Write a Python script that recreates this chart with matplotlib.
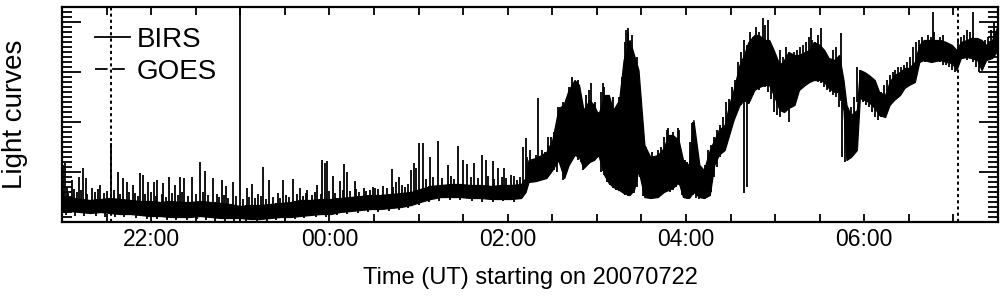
"""
BIRS light curve, 2007-07-22/23, redrawn with matplotlib.
Values are read off the published figure (arbitrary units).
"""
import matplotlib
matplotlib.use("Agg")
import matplotlib.pyplot as plt
from matplotlib.lines import Line2D
from matplotlib.ticker import FixedLocator, FuncFormatter, MultipleLocator
import numpy as np

plt.rcParams["font.family"] = ["Liberation Sans", "DejaVu Sans"]

# ---------------------------------------------------------------------------
# Data: time in minutes after 21:00 UT on 20070722, flux in arbitrary units
# ---------------------------------------------------------------------------
band_minutes = [
    0, 5, 12, 19, 26, 32, 39, 46, 53, 59, 66, 73, 80, 86, 93, 100, 107, 113,
    120, 127, 133, 140, 147, 154, 160, 167, 174, 181, 187, 194, 201, 208, 214,
    221, 228, 235, 241, 248, 255, 262, 268, 275, 282, 289, 295, 302, 309, 312,
    314, 319, 326, 330, 334, 338, 341, 345, 348, 351, 355, 358, 361, 365, 368,
    371, 375, 378, 382, 385, 388, 392, 396, 401, 405, 408, 411, 415, 418, 422,
    425, 429, 432, 436, 439, 442, 446, 449, 452, 456, 459, 462, 466, 469, 473,
    476, 479, 483, 486, 489, 493, 496, 500, 503, 506, 510, 513, 516, 520, 523,
    526, 528, 531, 535, 537, 540, 543, 547, 550, 554, 557, 560, 564, 567, 570,
    574, 577, 580, 585, 591, 595, 599, 602, 605, 609, 612, 616, 619, 622, 626,
    630,
]
band_high = [
    0.48, 0.50, 0.46, 0.44, 0.46, 0.48, 0.46, 0.44, 0.42, 0.42, 0.40, 0.42,
    0.40, 0.40, 0.42, 0.40, 0.38, 0.36, 0.32, 0.34, 0.34, 0.36, 0.38, 0.40,
    0.44, 0.44, 0.46, 0.46, 0.48, 0.50, 0.52, 0.54, 0.54, 0.56, 0.58, 0.60,
    0.66, 0.72, 0.74, 0.76, 0.76, 0.74, 0.74, 0.72, 0.74, 0.74, 0.76, 0.88,
    1.24, 1.28, 1.40, 1.64, 2.24, 2.38, 2.64, 2.84, 2.74, 2.24, 2.44, 2.34,
    2.14, 2.54, 2.54, 2.24, 2.44, 3.24, 3.64, 3.34, 3.04, 1.54, 1.30, 1.34,
    1.48, 1.74, 1.74, 1.64, 1.24, 1.14, 2.04, 1.14, 1.04, 1.44, 1.64, 1.84,
    1.94, 2.34, 2.64, 3.14, 3.34, 3.60, 3.74, 3.74, 3.64, 3.64, 3.44, 3.14,
    3.24, 3.40, 3.34, 3.34, 3.40, 3.44, 3.60, 3.54, 3.44, 3.28, 3.24, 3.34,
    2.84, 2.34, 2.14, 2.24, 3.04, 3.00, 2.94, 2.84, 2.60, 2.54, 2.80, 2.94,
    3.00, 3.08, 3.08, 3.20, 3.54, 3.64, 3.64, 3.64, 3.60, 3.54, 3.44, 3.60,
    3.64, 3.68, 3.68, 3.64, 3.54, 3.64, 3.94,
]
band_low = [
    0.20, 0.22, 0.20, 0.18, 0.20, 0.18, 0.16, 0.16, 0.14, 0.12, 0.12, 0.10,
    0.10, 0.10, 0.12, 0.10, 0.08, 0.08, 0.08, 0.06, 0.06, 0.08, 0.10, 0.10,
    0.12, 0.14, 0.16, 0.16, 0.20, 0.22, 0.24, 0.26, 0.26, 0.28, 0.30, 0.34,
    0.40, 0.46, 0.50, 0.50, 0.50, 0.48, 0.48, 0.46, 0.46, 0.46, 0.48, 0.60,
    0.80, 0.82, 0.88, 1.04, 1.24, 0.88, 1.14, 1.34, 1.30, 1.08, 1.20, 1.24,
    1.34, 0.94, 0.78, 0.70, 0.64, 0.58, 0.54, 0.64, 1.04, 0.50, 0.48, 0.50,
    0.60, 0.64, 0.68, 0.80, 0.50, 0.48, 0.60, 0.50, 0.48, 0.54, 1.14, 1.34,
    1.44, 1.74, 2.04, 2.34, 2.44, 2.38, 2.64, 2.70, 2.74, 2.74, 2.54, 2.24,
    2.20, 2.28, 2.34, 2.64, 2.74, 2.80, 2.84, 2.84, 2.80, 2.68, 2.60, 2.60,
    2.24, 1.24, 1.30, 1.44, 2.48, 2.44, 2.40, 2.28, 2.14, 2.10, 2.34, 2.44,
    2.54, 2.68, 2.74, 2.80, 3.20, 3.24, 3.20, 3.24, 3.20, 3.18, 3.04, 3.28,
    3.30, 3.28, 3.24, 3.04, 3.24, 3.28, 3.44,
]

# isolated bursts rising above the band
spike_minutes = [
    0.7, 2.0, 3.4, 6.7, 11.5, 14.2, 16.2, 20.2, 25.6, 33.0, 37.8, 41.1, 43.8,
    47.9, 52.6, 54.6, 58.0, 62.0, 64.0, 68.1, 72.1, 76.2, 79.6, 82.3, 87.6,
    93.0, 96.4, 101.8, 107.9, 110.6, 115.3, 124.7, 128.1, 132.1, 135.5, 139.6,
    145.6, 149.0, 155.7, 160.5, 165.2, 171.9, 175.3, 177.3, 178.7, 182.7,
    186.8, 190.1, 192.1, 196.9, 204.3, 211.0, 221.8, 224.5, 226.5, 234.6,
    236.6, 238.0, 240.0, 242.7, 247.4, 252.8, 259.6, 266.3, 269.7, 272.4,
    277.1, 282.5, 285.2, 289.9, 293.3, 297.3, 302.0, 306.1, 310.1, 312.1,
    320.2, 327.0, 330.4, 333.7, 356.0, 364.1, 379.6, 380.9, 383.6, 407.9,
    414.6, 424.1, 471.9, 475.3, 504.3, 511.0, 524.5, 586.5, 613.5,
]
spike_peak = [
    1.14, 1.18, 0.70, 0.84, 0.90, 1.08, 0.88, 0.68, 0.74, 1.58, 1.00, 0.88,
    0.80, 0.74, 0.98, 0.94, 0.80, 0.80, 0.84, 0.78, 0.90, 0.74, 0.90, 0.88,
    0.90, 1.20, 1.02, 0.88, 0.84, 0.72, 0.80, 0.68, 0.76, 0.56, 1.10, 0.84,
    0.58, 0.84, 0.86, 0.68, 0.64, 0.74, 1.24, 1.18, 1.22, 0.92, 0.82, 1.16,
    1.00, 0.82, 0.62, 0.68, 1.06, 0.80, 0.90, 1.04, 1.18, 1.08, 1.58, 1.58,
    1.30, 1.62, 1.14, 1.52, 1.24, 1.16, 1.18, 1.34, 1.24, 1.22, 1.08, 1.08,
    0.94, 0.84, 1.50, 1.68, 2.48, 1.70, 1.58, 2.30, 2.78, 2.78, 3.84, 3.88,
    3.74, 1.88, 1.88, 1.98, 4.08, 4.04, 3.88, 3.88, 3.78, 4.20, 4.20,
]

# small flicker on top of the quiet band
flicker_minutes = [
    1, 4, 8, 10, 13, 17, 22, 24, 28, 30, 35, 39, 45, 49, 51, 56, 60, 63, 67,
    70, 74, 78, 81, 85, 90, 95, 98, 104, 106, 109, 112, 117, 122, 126, 130,
    134, 137, 142, 147, 151, 153, 158, 162, 164, 168, 170, 174, 180, 184, 189,
    194, 198, 200, 203, 207, 209, 213, 216, 219, 223, 229, 231, 233, 245, 250,
    256, 262, 264, 275, 280, 287, 291, 296, 299, 304, 308,
]
flicker_peak = [
    0.62, 0.58, 0.66, 0.60, 0.64, 0.56, 0.60, 0.66, 0.58, 0.62, 0.64, 0.56,
    0.60, 0.58, 0.52, 0.56, 0.60, 0.52, 0.56, 0.50, 0.58, 0.54, 0.60, 0.52,
    0.56, 0.60, 0.54, 0.56, 0.50, 0.54, 0.48, 0.52, 0.46, 0.50, 0.48, 0.52,
    0.46, 0.50, 0.48, 0.54, 0.50, 0.56, 0.52, 0.58, 0.54, 0.60, 0.56, 0.62,
    0.58, 0.64, 0.62, 0.66, 0.60, 0.68, 0.64, 0.70, 0.66, 0.72, 0.68, 0.70,
    0.74, 0.70, 0.76, 0.86, 0.90, 0.88, 0.92, 0.86, 0.90, 0.88, 0.92, 0.86,
    0.90, 0.88, 0.92, 0.90,
]
# and the ragged floor beneath it
floor_minutes = [
    3, 9, 15, 23, 29, 36, 42, 50, 57, 64, 71, 77, 84, 91, 97, 103, 110, 116,
    124, 131, 138, 144, 150, 157, 163, 171, 178, 185, 192, 199, 206, 213, 220,
    227, 233, 240, 247, 254, 261, 268, 276, 283, 290, 297, 304,
]
floor_value = [
    0.14, 0.12, 0.13, 0.12, 0.10, 0.10, 0.10, 0.08, 0.06, 0.06, 0.04, 0.05,
    0.04, 0.06, 0.05, 0.03, 0.03, 0.02, 0.02, 0.03, 0.03, 0.05, 0.05, 0.07,
    0.08, 0.10, 0.10, 0.14, 0.16, 0.18, 0.20, 0.20, 0.22, 0.24, 0.28, 0.34,
    0.40, 0.42, 0.44, 0.44, 0.42, 0.40, 0.40, 0.42, 0.40,
]

# individual excursions (low, high) across the active part of the curve
stroke_minutes = list(range(313, 629, 2))
stroke_low = [
    0.80, 0.90, 0.85, 0.80, 0.90, 0.85, 0.95, 0.90, 1.00, 1.05, 1.00, 1.20,
    0.85, 1.00, 1.15, 1.30, 1.40, 1.25, 1.20, 1.05, 1.15, 1.20, 1.25, 1.30,
    1.35, 1.00, 0.95, 0.80, 0.75, 0.68, 0.65, 0.62, 0.60, 0.55, 0.52, 0.60,
    0.58, 0.70, 0.90, 0.52, 0.48, 0.50, 0.46, 0.50, 0.48, 0.55, 0.58, 0.62,
    0.60, 0.65, 0.70, 0.75, 0.55, 0.48, 0.46, 0.50, 0.55, 0.48, 0.46, 0.48,
    0.46, 0.50, 0.60, 0.90, 1.10, 1.30, 1.40, 1.55, 1.70, 1.90, 2.10, 2.30,
    2.35, 2.40, 2.45, 2.60, 2.55, 2.70, 2.65, 2.75, 2.70, 2.60, 2.45, 2.20,
    2.15, 2.10, 2.20, 2.25, 2.00, 2.30, 2.50, 2.60, 2.70, 2.75, 2.80, 2.85,
    2.80, 2.82, 2.80, 2.78, 2.70, 2.65, 2.60, 2.55, 2.50, 2.30, 1.30, 1.20,
    1.25, 1.35, 1.60, 2.40, 2.45, 2.40, 2.35, 2.30, 2.20, 2.10, 2.05, 2.10,
    2.25, 2.35, 2.40, 2.50, 2.55, 2.60, 2.65, 2.70, 2.75, 2.80, 3.00, 3.15,
    3.20, 3.25, 3.20, 3.25, 3.20, 3.22, 3.25, 3.20, 3.15, 3.15, 3.10, 3.05,
    3.00, 3.20, 3.30, 3.28, 3.25, 3.30, 3.20, 3.10, 3.00, 3.20, 3.25, 3.30,
    3.35, 3.40,
]
stroke_high = [
    1.30, 1.45, 1.25, 1.35, 1.30, 1.45, 1.40, 1.55, 1.70, 1.80, 2.00, 2.30,
    2.40, 2.20, 2.70, 2.90, 2.80, 2.85, 2.50, 2.30, 2.55, 2.65, 2.30, 2.40,
    2.20, 2.60, 2.70, 2.55, 2.35, 2.50, 2.30, 2.50, 2.90, 3.60, 3.80, 3.40,
    3.10, 3.30, 2.60, 1.70, 1.50, 1.30, 1.40, 1.25, 1.45, 1.50, 1.70, 1.85,
    1.70, 1.80, 1.65, 1.85, 1.30, 1.25, 1.20, 1.60, 2.00, 1.20, 1.10, 1.05,
    1.15, 1.45, 1.55, 1.70, 1.85, 1.95, 2.10, 2.40, 2.45, 2.70, 2.85, 3.20,
    3.40, 3.65, 3.55, 3.80, 3.70, 3.90, 3.80, 3.70, 3.95, 3.50, 3.40, 3.30,
    3.20, 3.45, 3.30, 3.50, 3.40, 3.35, 3.40, 3.45, 3.50, 3.55, 3.60, 3.70,
    3.65, 3.60, 3.75, 3.50, 3.40, 3.30, 3.25, 3.45, 3.50, 2.90, 2.40, 2.20,
    2.10, 2.30, 2.50, 3.10, 3.05, 3.00, 2.95, 2.85, 2.80, 2.65, 2.55, 2.60,
    2.75, 2.85, 2.95, 3.00, 3.05, 3.10, 3.10, 3.15, 3.20, 3.30, 3.50, 3.60,
    3.65, 3.70, 3.65, 3.75, 3.70, 3.80, 3.65, 3.70, 3.75, 3.60, 3.55, 3.50,
    3.45, 3.65, 3.70, 3.75, 3.85, 3.80, 3.70, 3.65, 3.60, 3.55, 3.65, 3.70,
    3.85, 4.00,
]

# short drop-outs below the band
dip_minutes = [459.1, 460.8]
dip_floor = [0.58, 0.70]

# event markers
dotted_marks = [33, 603]
solid_marks = [120]

legend_labels = ["BIRS", "GOES"]

# ---------------------------------------------------------------------------
# Figure
# ---------------------------------------------------------------------------
_W, _H, _DPI = 1004, 296, 100
_LW = 1.3

fig = plt.figure(figsize=(_W / _DPI, _H / _DPI), dpi=_DPI)
ax = fig.add_axes([62 / _W, 74 / _H, 936 / _W, 215 / _H])

t = np.array(band_minutes, dtype=float)
lo = np.array(band_low)
hi = np.array(band_high)

ax.fill_between(t, lo, hi, color="black", lw=0.9)
ax.vlines(stroke_minutes, stroke_low, stroke_high, color="black", lw=_LW)
ax.vlines(flicker_minutes, np.interp(flicker_minutes, t, lo), flicker_peak,
          color="black", lw=_LW)
ax.vlines(floor_minutes, floor_value, np.interp(floor_minutes, t, hi),
          color="black", lw=_LW)
ax.vlines(spike_minutes, np.interp(spike_minutes, t, lo), spike_peak,
          color="black", lw=_LW)
ax.vlines(dip_minutes, dip_floor, np.interp(dip_minutes, t, hi),
          color="black", lw=_LW)

for m in dotted_marks:
    ax.axvline(m, color="black", lw=1.4, linestyle=(0, (1.6, 1.6)))
for m in solid_marks:
    ax.axvline(m, color="black", lw=_LW)

ax.set_xlim(0, 630)
ax.set_ylim(0, 4.3)


def _clock(m, pos):
    m = int(round(m))
    if m % 120 != 60:
        return ""
    return f"{(21 + m // 60) % 24:02d}:00"


ax.xaxis.set_major_locator(MultipleLocator(30))
ax.xaxis.set_major_formatter(FuncFormatter(_clock))
ax.yaxis.set_major_locator(FixedLocator([0, 1, 2, 3, 4]))
ax.yaxis.set_minor_locator(MultipleLocator(0.1))

ax.tick_params(axis="x", which="major", direction="in", top=True, bottom=True,
               length=5.5, width=_LW, labelsize=16.5, pad=4)
ax.tick_params(axis="y", which="major", direction="in", left=True, right=True,
               length=13.5, width=_LW, labelleft=False)
ax.tick_params(axis="y", which="minor", direction="in", left=True, right=True,
               length=7, width=_LW)
for s in ax.spines.values():
    s.set_linewidth(1.6)

ax.set_xlabel("Time (UT) starting on 20070722", fontsize=17, labelpad=12)
ax.set_ylabel("Light curves", fontsize=20)
ax.yaxis.set_label_coords(-0.036, 0.5)

handles = [
    Line2D([], [], color="black", lw=_LW),
    Line2D([], [], color="black", lw=_LW, dashes=(7, 2.5, 7, 8, 1.5, 2)),
]
ax.legend(handles, legend_labels, loc="upper left",
          bbox_to_anchor=(33 / 936, 195 / 215), frameon=False, fontsize=20,
          handlelength=1.26, handletextpad=0.25, labelspacing=0.2,
          borderpad=0, borderaxespad=0)

fig.savefig("out.png", dpi=_DPI)
